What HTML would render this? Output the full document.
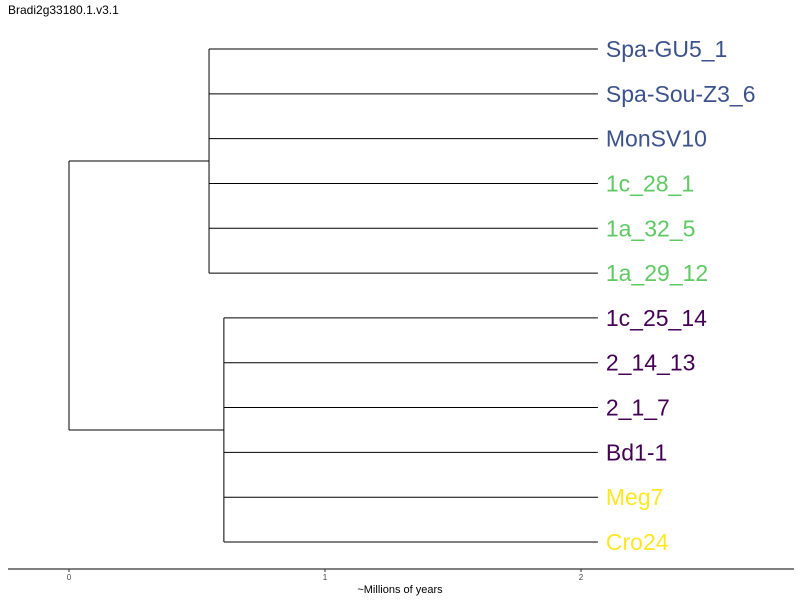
<!DOCTYPE html>
<html><head><meta charset="utf-8"><style>
body{margin:0;background:#fff;}
svg{display:block;font-family:"Liberation Sans",sans-serif;}
</style></head><body>
<svg id="chart" width="800" height="600" viewBox="0 0 800 600">
<text x="8" y="14" font-size="12" fill="#000">Bradi2g33180.1.v3.1</text>
<g id="tree"></g>
<line x1="8" y1="569" x2="794" y2="569" stroke="#000" stroke-width="1"/>
<g id="ticks"></g>
<text x="400" y="593" font-size="11" text-anchor="middle" fill="#000">~Millions of years</text>
</svg>
<script>
const leafNames = ["Spa-GU5_1","Spa-Sou-Z3_6","MonSV10","1c_28_1","1a_32_5","1a_29_12","1c_25_14","2_14_13","2_1_7","Bd1-1","Meg7","Cro24"];
const leafColors = ["#3b528b","#3b528b","#3b528b","#5ec962","#5ec962","#5ec962","#440154","#440154","#440154","#440154","#fde725","#fde725"];
const leafAge = 2.066;
const cladeA = [0,1,2,3,4,5];
const cladeB = [6,7,8,9,10,11];
const cladeAge = [0.547, 0.605];
const rootAge = 0;
const tickValues = [0,1,2];
const tickLabels = ["0","1","2"];

const NS="http://www.w3.org/2000/svg";
const xS = v => 69 + v*256;
const yS = i => 49 + i*44.82;
const tree=document.getElementById('tree');
function ln(x1,y1,x2,y2,name){
  const l=document.createElementNS(NS,'line');
  l.setAttribute('x1',x1);l.setAttribute('y1',y1);l.setAttribute('x2',x2);l.setAttribute('y2',y2);
  l.setAttribute('stroke','#000');l.setAttribute('stroke-width','1');
  
  
  tree.appendChild(l);
}
const clades=[cladeA,cladeB];
const mids=[];
clades.forEach((c,ci)=>{
  const cx=xS(cladeAge[ci]);
  const ys=c.map(yS);
  ln(cx,Math.min(...ys),cx,Math.max(...ys),'clade-'+ci+'-vertical');
  c.forEach(i=>{
    ln(cx,yS(i),xS(leafAge),yS(i),'branch-'+leafNames[i]);
    const t=document.createElementNS(NS,'text');
    t.setAttribute('x',xS(leafAge)+8);t.setAttribute('y',yS(i)+8);
    t.setAttribute('font-size','23');t.setAttribute('fill',leafColors[i]);
    
    
    t.textContent=leafNames[i];tree.appendChild(t);
  });
  mids.push((Math.min(...ys)+Math.max(...ys))/2);
});
ln(xS(rootAge),mids[0],xS(rootAge),mids[1],'root-vertical');
clades.forEach((c,ci)=>ln(xS(rootAge),mids[ci],xS(cladeAge[ci]),mids[ci],'clade-'+ci+'-stem'));
const tk=document.getElementById('ticks');
tickValues.forEach((v,i)=>{
  const l=document.createElementNS(NS,'line');
  l.setAttribute('x1',xS(v));l.setAttribute('x2',xS(v));l.setAttribute('y1',569);l.setAttribute('y2',572);
  l.setAttribute('stroke','#333');
  
  
  tk.appendChild(l);
  const t=document.createElementNS(NS,'text');
  t.setAttribute('x',xS(v));t.setAttribute('y',580);t.setAttribute('font-size','8');
  t.setAttribute('text-anchor','middle');t.setAttribute('fill','#444');
  
  
  t.textContent=tickLabels[i];tk.appendChild(t);
});
</script>
</body></html>
